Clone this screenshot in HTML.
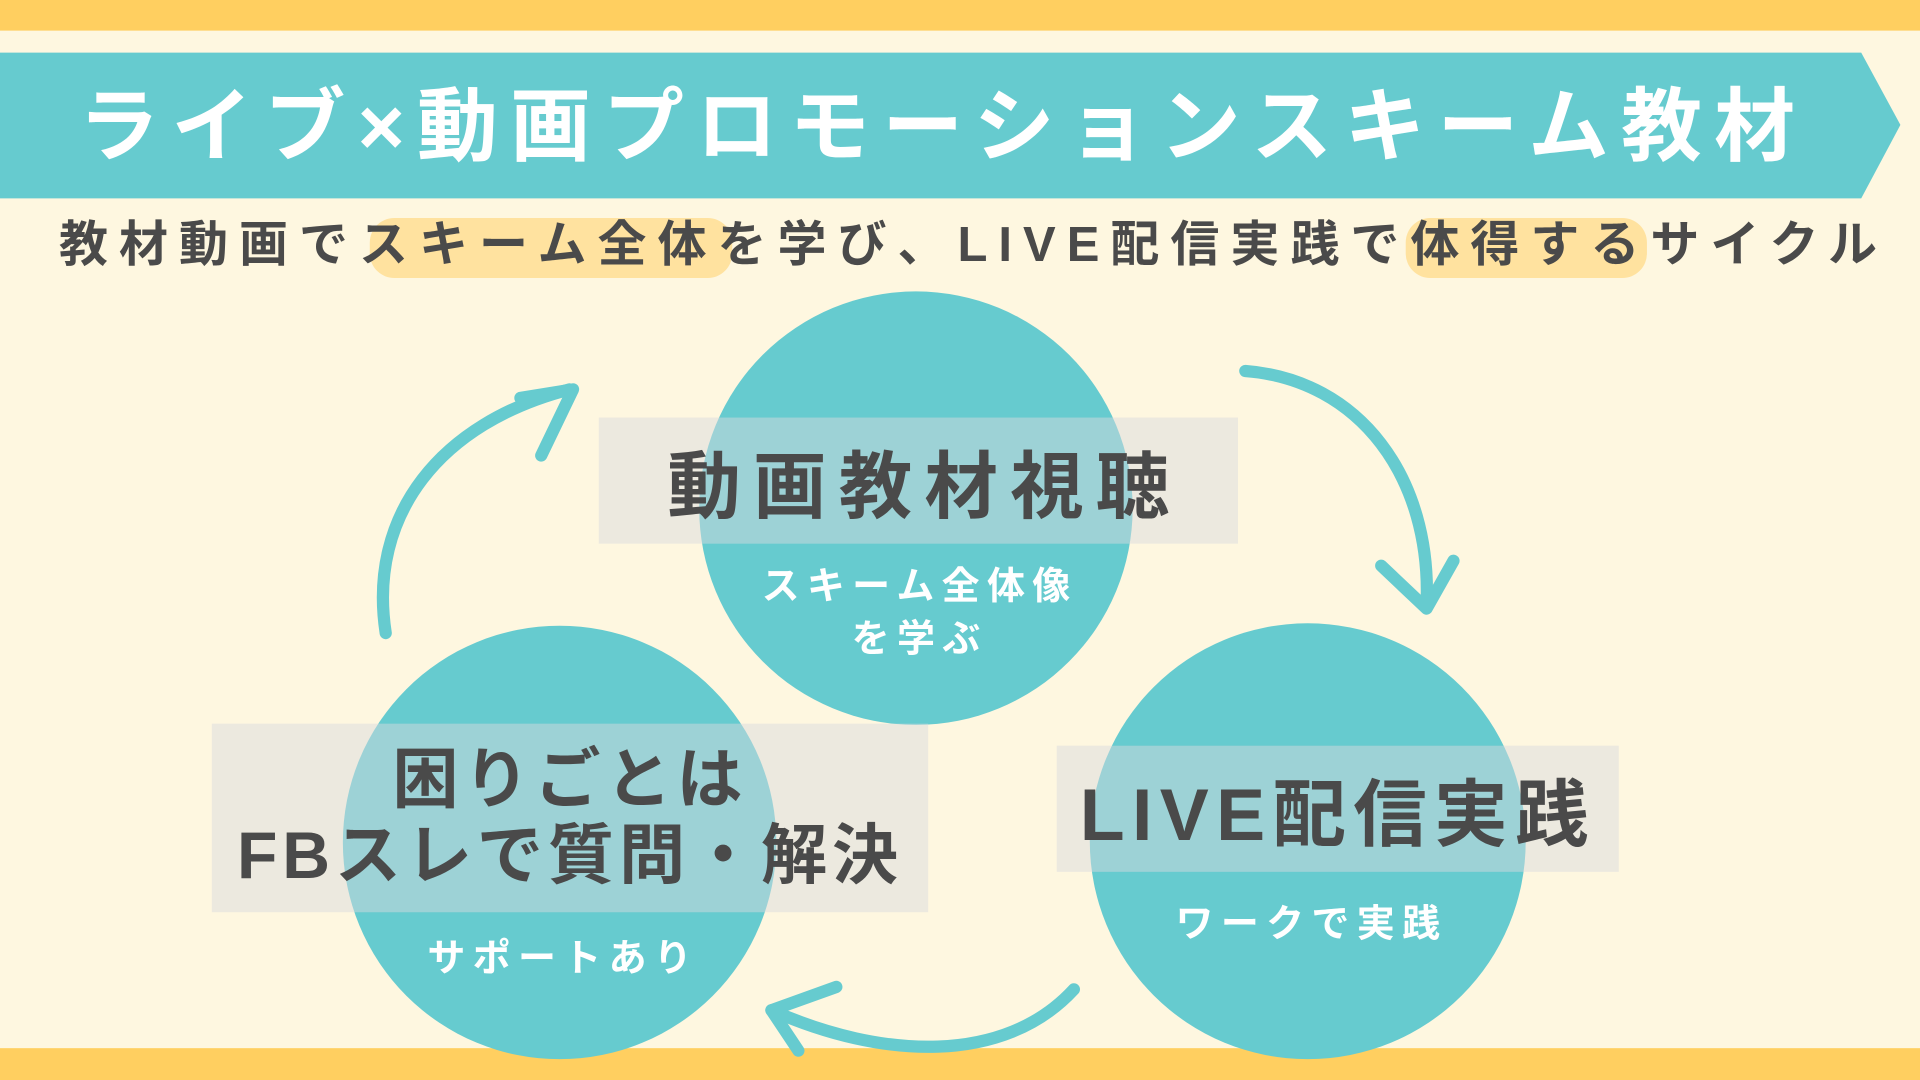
<!DOCTYPE html>
<html><head><meta charset="utf-8"><style>
html,body{margin:0;padding:0;width:1920px;height:1080px;overflow:hidden;background:#FEF7E0}
#w{position:absolute;left:0;top:0;width:1568px;height:882px;transform:scale(1.22449);transform-origin:0 0;font-family:"Liberation Sans","Noto Sans CJK JP",sans-serif}
.a{position:absolute}
.c{position:absolute;border-radius:50%;background:#66CBCF}
.box{position:absolute;background:rgba(217,218,222,0.48);color:#4a4a4a;display:flex;align-items:center;justify-content:center;text-align:center;font-weight:bold}
.sub{position:absolute;color:#fff;font-weight:bold;text-align:center;font-size:31px;letter-spacing:6px;line-height:43px}
</style></head><body><div id="w">
<div class="a" style="left:0;top:0;width:1568px;height:25px;background:#FFCF60"></div>
<div class="a" style="left:0;top:856px;width:1568px;height:26px;background:#FFCF60"></div>
<svg class="a" style="left:0;top:0" width="1568" height="882">
<polygon points="0,43 1520,43 1552,102 1520,162 0,162" fill="#66CBCF"/>
<rect x="302" y="178" width="296" height="49" rx="20" fill="#FFE29F"/>
<rect x="1148" y="178" width="197" height="49" rx="20" fill="#FFE29F"/>
</svg>
<div class="a" style="left:0;top:58px;width:1540px;text-align:center;color:#fff;font-size:66px;font-weight:bold;letter-spacing:10px;line-height:90px">ライブ×動画プロモーションスキーム教材</div>
<div class="a" style="left:30px;top:174px;width:1530px;text-align:center;color:#4a4a4a;font-size:40px;font-weight:bold;letter-spacing:9px;line-height:52px">教材動画でスキーム全体を学び、LIVE配信実践で体得するサイクル</div>
<div class="c" style="left:571px;top:238px;width:354px;height:354px"></div>
<div class="c" style="left:890px;top:509px;width:356px;height:356px"></div>
<div class="c" style="left:280px;top:511px;width:354px;height:354px"></div>
<svg class="a" style="left:0;top:0" width="1568" height="882" fill="none" stroke="#66CBCF" stroke-width="10" stroke-linecap="round" stroke-linejoin="round">
<path d="M315,517 C300,420 360,345 465,318"/>
<path d="M425,325 L468,318 L442,372"/>
<path d="M1017,303 C1110,310 1170,390 1165,495"/>
<path d="M1128,462 L1165,497 L1187,458"/>
<path d="M877,808 C820,870 720,865 630,825"/>
<path d="M683,806 L630,825 L652,858"/>
</svg>
<div class="box" style="left:489px;top:341px;width:522px;height:103px;font-size:60px;letter-spacing:10px;padding-left:10px;box-sizing:border-box">動画教材視聴</div>
<div class="box" style="left:863px;top:609px;width:459px;height:103px;font-size:60px;letter-spacing:6px">LIVE配信実践</div>
<div class="box" style="left:173px;top:591px;width:585px;height:154px;font-size:54px;letter-spacing:4px;line-height:62px">困りごとは<br>FBスレで質問・解決</div>
<div class="sub" style="left:571px;top:457px;width:360px">スキーム全体像<br>を学ぶ</div>
<div class="sub" style="left:890px;top:733px;width:362px">ワークで実践</div>
<div class="sub" style="left:280px;top:761px;width:360px">サポートあり</div>
</div></body></html>
